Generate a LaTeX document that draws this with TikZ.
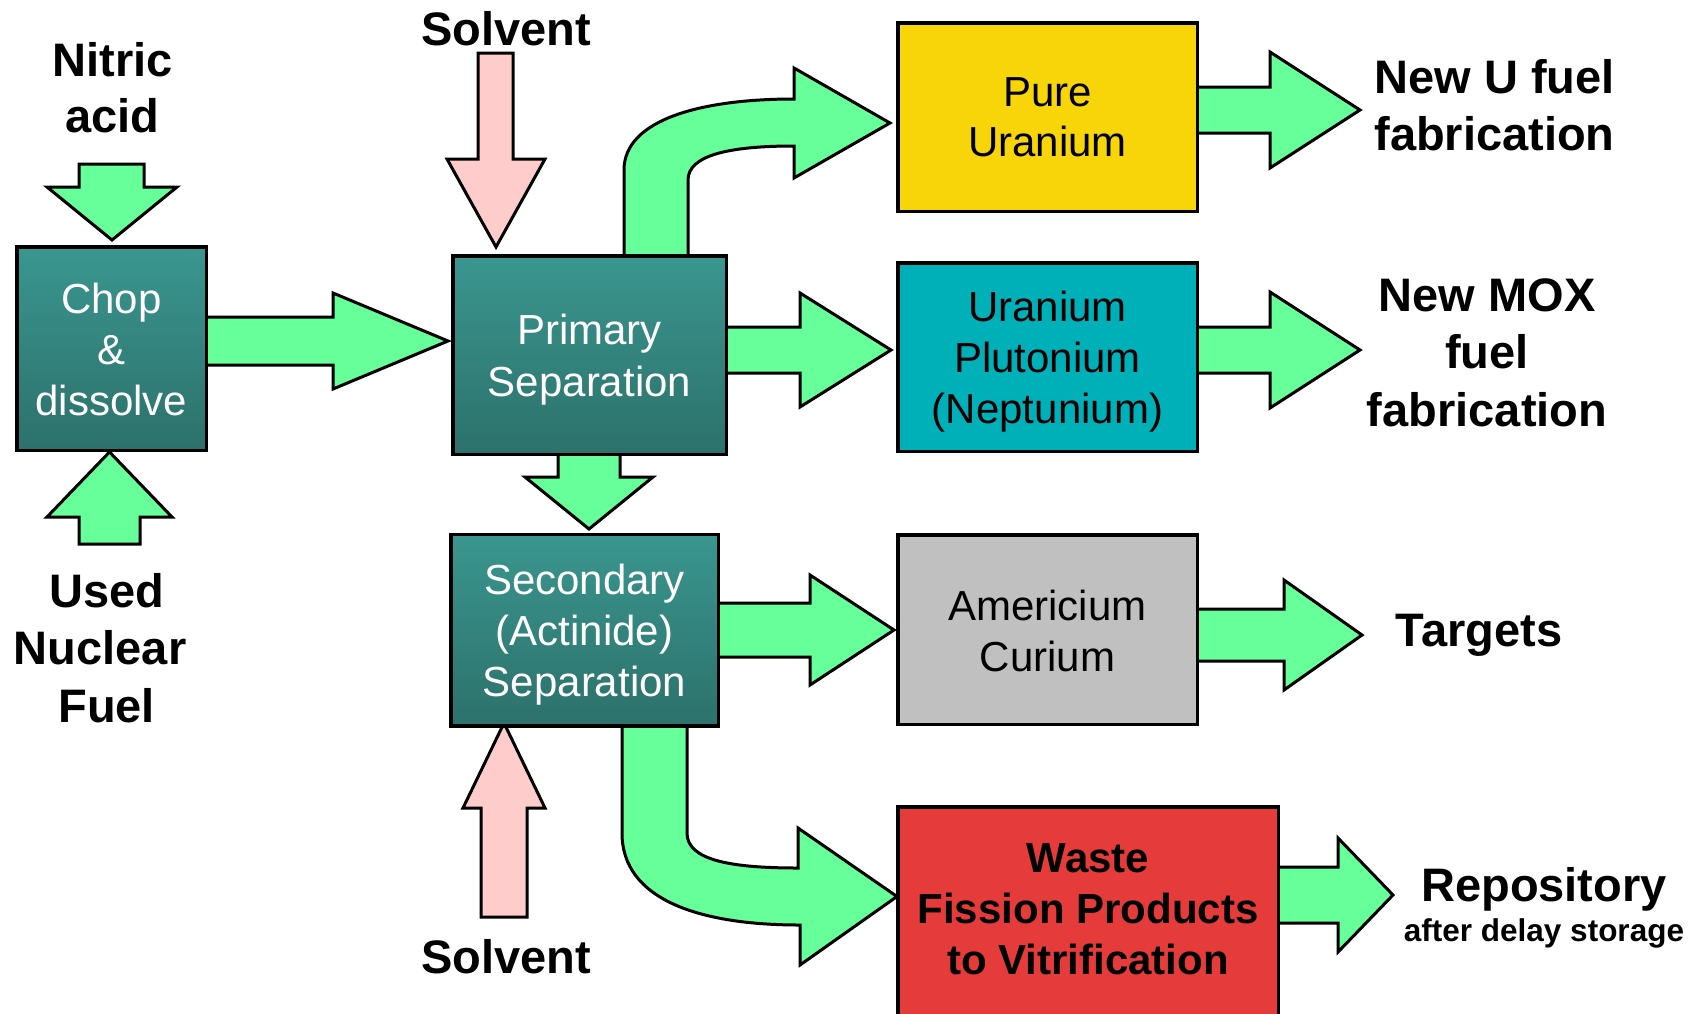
\documentclass[tikz,border=0pt]{standalone}
\usepackage{fontspec}
\setmainfont{Liberation Sans}
\definecolor{flowgreen}{HTML}{66FF99}
\definecolor{flowpink}{HTML}{FFCCCC}
\definecolor{tealtop}{HTML}{3A968F}
\definecolor{tealbot}{HTML}{2D716B}
\definecolor{boxyellow}{HTML}{F7D508}
\definecolor{boxcyan}{HTML}{00B0B9}
\definecolor{boxgray}{HTML}{C0C0C0}
\definecolor{boxred}{HTML}{E53B3B}
\begin{document}
\begin{tikzpicture}[x=1pt,y=-1pt,
  procbox/.style={draw=black, line width=3.5pt, inner sep=0pt, top color=tealtop, bottom color=tealbot},
  prodbox/.style={draw=black, line width=3.5pt, inner sep=0pt},
  flow/.style={draw=black, line width=3pt, fill=flowgreen, line join=miter},
  feed/.style={draw=black, line width=3pt, fill=flowpink, line join=miter},
  boxtext/.style={font=\fontsize{42}{51}\selectfont, align=center, inner sep=0pt},
  bigtext/.style={font=\fontsize{47}{57}\selectfont\bfseries, align=center, inner sep=0pt},
]
\clip (0,0) rectangle (1697,1013);
\fill[white] (0,0) rectangle (1697,1013);

% ---- flow arrows ----
\draw[flow] (79,164) -- (144,164) -- (144,187) -- (177,187) -- (112,240) -- (47,187) -- (79,187) -- cycle;
\draw[flow] (79,544) -- (140,544) -- (140,517) -- (172,517) -- (109.5,452) -- (47,517) -- (79,517) -- cycle;
\draw[flow] (205,317) -- (333,317) -- (333,293) -- (448,341) -- (333,389) -- (333,365) -- (205,365) -- cycle;
\draw[feed] (478,53) -- (513,53) -- (513,159) -- (545,159) -- (496,247) -- (447,159) -- (478,159) -- cycle;
\draw[flow] (624,258) -- (624,170) .. controls (624,120) and (700,99) .. (794,99) -- (794,68) -- (890,123)
  -- (794,178) -- (794,146) .. controls (730,146) and (688,155) .. (688,180) -- (688,258) -- cycle;
\draw[flow] (724,327) -- (800,327) -- (800,293) -- (891,350) -- (800,407) -- (800,373) -- (724,373) -- cycle;
\draw[flow] (558,452) -- (620,452) -- (620,477) -- (653,477) -- (589,529) -- (525,477) -- (558,477) -- cycle;
\draw[flow] (716,603) -- (810,603) -- (810,575) -- (894,630) -- (810,685) -- (810,657) -- (716,657) -- cycle;
\draw[feed] (481,917) -- (527,917) -- (527,808) -- (545,808) -- (504,723) -- (463,808) -- (481,808) -- cycle;
\draw[flow] (622,724) -- (622,833) .. controls (622,900) and (700,925) .. (800,925) -- (800,965) -- (897,896.5)
  -- (798,828) -- (798,868) .. controls (730,868) and (687,860) .. (687,833) -- (687,724) -- cycle;
\draw[flow] (1195,87) -- (1270,87) -- (1270,52) -- (1360,110) -- (1270,168) -- (1270,133) -- (1195,133) -- cycle;
\draw[flow] (1195,327) -- (1270,327) -- (1270,292) -- (1360,350) -- (1270,408) -- (1270,373) -- (1195,373) -- cycle;
\draw[flow] (1195,609) -- (1284,609) -- (1284,580) -- (1362,635) -- (1284,690) -- (1284,661) -- (1195,661) -- cycle;
\draw[flow] (1276,867) -- (1338,867) -- (1338,838) -- (1393,895) -- (1338,952) -- (1338,923) -- (1276,923) -- cycle;

% ---- boxes ----
\node[procbox, minimum width=189.5pt, minimum height=203.5pt] (chop) at (111.5,348.5) {};
\node[procbox, minimum width=273.5pt, minimum height=198.5pt] (prim) at (589.5,355) {};
\node[procbox, minimum width=267.5pt, minimum height=191.5pt] (sec) at (584.5,630) {};
\node[prodbox, fill=boxyellow, minimum width=299.5pt, minimum height=188.5pt] (pure) at (1047.5,117) {};
\node[prodbox, fill=boxcyan, minimum width=299.5pt, minimum height=188.5pt] (upn) at (1047.5,357) {};
\node[prodbox, fill=boxgray, minimum width=299.5pt, minimum height=189.5pt] (amcm) at (1047.5,629.5) {};
\node[prodbox, fill=boxred, minimum width=380.5pt, minimum height=221.5pt] (waste) at (1088,917.5) {};

% ---- box texts ----
\node[boxtext, text=white] (choptxt) at (111.5,349) {Chop\\\&\\dissolve};
\node[boxtext, text=white, font=\fontsize{42}{52}\selectfont] (primtxt) at (589.5,360) {Primary\\Separation};
\node[boxtext, text=white] (sectxt) at (584.5,635) {Secondary\\(Actinide)\\Separation};
\node[boxtext, font=\fontsize{42}{50}\selectfont] (puretxt) at (1047.5,117) {Pure\\Uranium};
\node[boxtext] (upntxt) at (1047.5,362) {Uranium\\Plutonium\\(Neptunium)};
\node[boxtext] (amcmtxt) at (1047.5,630.5) {Americium\\Curium};
\node[boxtext, font=\fontsize{42}{51}\selectfont\bfseries] (wastetxt) at (1088,909) {Waste\\Fission Products\\to Vitrification};

% ---- labels ----
\node[bigtext, font=\fontsize{47}{56}\selectfont\bfseries] (nitric) at (112.5,88) {Nitric\\acid};
\node[bigtext, anchor=base] (solvtop) at (506,45) {Solvent};
\node[bigtext, font=\fontsize{47}{57.5}\selectfont\bfseries] (used) at (106.7,647.7) {Used\\Nuclear\kern0.278em\\Fuel};
\node[bigtext, anchor=base] (solvbot) at (506,973) {Solvent};
\node[bigtext] (newu) at (1494.5,104.7) {New U fuel\\fabrication};
\node[bigtext, font=\fontsize{47}{57.5}\selectfont\bfseries] (newmox) at (1487,352.7) {New MOX\\fuel\\fabrication};
\node[bigtext, anchor=base] (targets) at (1479,646) {Targets};
\node[bigtext, anchor=base] (repo) at (1544,901) {Repository};
\node[inner sep=0pt, anchor=base, font=\fontsize{31.5}{38}\selectfont\bfseries] (delay) at (1544,941) {after delay storage};
\end{tikzpicture}
\end{document}
